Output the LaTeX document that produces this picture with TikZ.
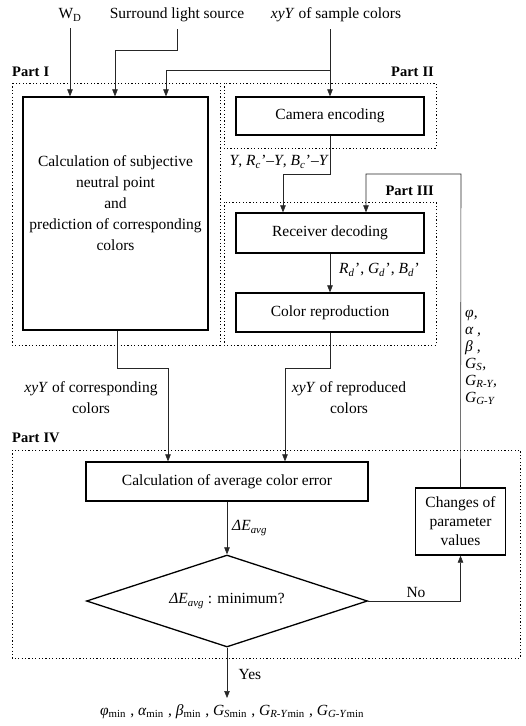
\documentclass[tikz,border=0pt]{standalone}
\usepackage{fontspec}
\setmainfont{Liberation Serif}
\usetikzlibrary{arrows.meta,shapes.geometric,calc}
\newcommand{\iv}[1]{\textit{#1}}
\newcommand{\sbx}[1]{\textsubscript{#1}}
\newcommand{\prsub}[2]{\iv{#1}\textsubscript{\iv{#2}}\kern0.5pt'}
\newcommand{\bodyfont}{\fontsize{15.5}{21}\selectfont}
\begin{document}
\begin{tikzpicture}[x=1pt,y=-1pt,
  txt/.style={font=\bodyfont, inner sep=0pt, align=center},
  box/.style={draw, line width=1.3pt, inner sep=0pt, font=\bodyfont, align=center},
  partbox/.style={draw, dash pattern=on 1.2pt off 2.2pt, line width=1pt},
  partlbl/.style={font=\fontsize{14.5}{17}\selectfont\bfseries, inner sep=0pt},
  conn/.style={line width=0.6pt, draw=black!85},
  arr/.style={conn, -{Triangle[length=7pt,width=5.5pt]}}]
\useasboundingbox (0,0) rectangle (526,726);

% dotted part frames
\draw[partbox] (12,83) rectangle (220,345);
\draw[partbox] (224,83) rectangle (436,148);
\draw[partbox] (224,202) rectangle (436,345);
\draw[partbox] (12,450) rectangle (520,658);
\node[partlbl, anchor=west] (p1) at (12,72) {Part\hspace{4pt}I};
\node[partlbl, anchor=east] (p2) at (434,72) {Part\hspace{4pt}II};
\node[partlbl, anchor=east] (p3) at (434,191) {Part\hspace{4pt}III};
\node[partlbl, anchor=west] (p4) at (12,438) {Part\hspace{4pt}IV};

% top inputs
\node[txt, outer sep=7pt] (wd) at (70,15) {W\sbx{D}};
\node[txt, outer sep=7pt] (sur) at (177,15) {Surround light source};
\node[txt, outer sep=7pt] (smp) at (336,15) {\iv{xyY} of sample colors};

% boxes
\node[box, minimum width=185pt, minimum height=233pt] (calcL) at (115.5,213.5) {};
\node[txt] (calcLt) at (115.5,203.5) {Calculation of subjective\\neutral point\\and\\prediction of corresponding\\colors};
\node[box, minimum width=188pt, minimum height=38pt] (cam) at (330,116) {Camera\hspace{4pt}encoding};
\node[box, minimum width=188pt, minimum height=40pt] (recv) at (330,233) {Receiver\hspace{4pt}decoding};
\node[box, minimum width=188pt, minimum height=39pt] (repro) at (330,312.5) {Color\hspace{4pt}reproduction};
\node[box, minimum width=282pt, minimum height=39pt] (avg) at (227,481.5) {Calculation of average color error};
\node[box, diamond, shape aspect=3, minimum width=281pt, minimum height=92pt] (dia) at (227,601) {\iv{ΔE}\sbx{\iv{avg}} : minimum?};
\node[box, minimum width=90pt, minimum height=67pt, font=\fontsize{15.5}{19}\selectfont] (chg) at (460.5,521.5) {Changes of\\parameter\\values};

% coordinates
\coordinate (j1) at (166,70);
\coordinate (j0) at (115,50);
\coordinate (j2) at (283,174);
\coordinate (j3) at (366,174);
\coordinate (j4) at (461,174);
\coordinate (j5) at (117,368);
\coordinate (j6) at (168,368);
\coordinate (j7) at (285,368);
\coordinate (j8) at (227,698);

% connectors: inputs
\draw[arr] (wd.south) -- (wd.south |- calcL.north);
\draw[arr] (sur.south) |- (j0) -- (j0 |- calcL.north);
\draw[arr] (cam.north |- smp.south) -- (cam.north);
\draw[arr] (cam.north |- j1) -- (j1) -- (j1 |- calcL.north);

% part II/III
\draw[arr] (cam.south) |- (j2) -- (j2 |- recv.north);
\node[txt, anchor=east] (ylbl) at (329,162) {\iv{Y}, \prsub{R}{c}–\iv{Y}, \prsub{B}{c}–\iv{Y}};
\draw[arr] (recv.south) -- (repro.north);
\node[txt, anchor=west] (rlbl) at (339,270) {\prsub{R}{d}, \prsub{G}{d}, \prsub{B}{d}};

% feedback loop
\draw[arr] (chg.north) -- (j4) -- (j3) -- (j3 |- recv.north);
\node[anchor=north west, align=left, inner sep=0pt, font=\fontsize{15.5}{17}\selectfont\itshape] (par) at (465,310)
  {φ,\\ α ,\\ β ,\\ G\sbx{S},\\ G\sbx{R-Y},\\ G\sbx{G-Y}};

% to part IV
\draw[arr] (j5 |- calcL.south) -- (j5) -- (j6) -- (j6 |- avg.north);
\draw[arr] (repro.south) |- (j7) -- (j7 |- avg.north);
\node[txt] (clbl) at (91,398) {\iv{xyY} of corresponding\\colors};
\node[txt] (rplbl) at (349,398) {\iv{xyY} of reproduced\\colors};

% part IV
\draw[arr] (avg.south) -- (dia.north);
\node[txt, anchor=west] (dlbl) at (232,528) {\iv{ΔE}\sbx{\iv{avg}}};
\draw[arr] (dia.east) -| (chg.south);
\node[txt] (nolbl) at (416,592) {No};
\draw[arr] (dia.south) -- (j8);
\node[txt] (yes) at (250,674) {Yes};
\node[txt, anchor=north] (out) at (232,704) {\iv{φ}\sbx{min}\;, \iv{α}\sbx{min}\;, \iv{β}\sbx{min}\;, \iv{G}\sbx{\iv{S}min}\;, \iv{G}\sbx{\iv{R-Y}min}\;, \iv{G}\sbx{\iv{G-Y}min}};
\end{tikzpicture}
\end{document}
